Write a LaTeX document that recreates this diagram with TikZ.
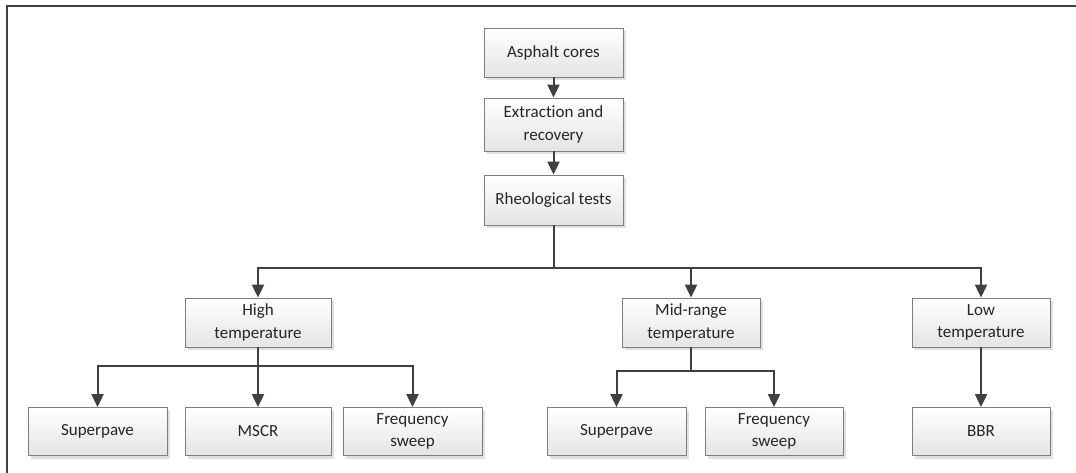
\documentclass[tikz,border=0pt]{standalone}
\usepackage{fontspec}
\setmainfont{Carlito}[Ligatures=NoCommon]
\usepackage{tikz}
\usetikzlibrary{arrows.meta}
\usetikzlibrary{shadows}
\definecolor{linegray}{HTML}{404040}
\definecolor{boxborder}{HTML}{7F7F7F}
\definecolor{boxbottom}{HTML}{E4E4E4}

\begin{document}
\begin{tikzpicture}[x=1pt,y=-1pt,
  box/.style={rectangle,draw=boxborder,line width=0.8pt,top color=white,bottom color=boxbottom,
    minimum height=49pt,inner sep=2pt,align=center,font=\fontsize{17}{22.5}\selectfont,text=black!85,
    drop shadow={shadow xshift=3pt,shadow yshift=-3pt,fill=black!12,opacity=1}},
  conn/.style={draw=linegray,line width=2pt},
  arr/.style={conn,-{Triangle[length=13pt,width=12pt]}}]
\useasboundingbox (0,0) rectangle (1076,473);
\draw[black!75,line width=2pt] (7,473) -- (7,6.5) -- (1076,6.5);

\node[box,minimum width=139pt] (cores) at (553.5,52.5) {Asphalt cores};
\node[box,minimum width=139pt,minimum height=53pt] (extract) at (553.5,124.5) {Extraction and\\recovery};
\node[box,minimum width=139pt,minimum height=50pt] (rheo) at (553.5,200) {Rheological tests};

\node[box,minimum width=146pt] (high) at (258,322.5) {High\\temperature};
\node[box,minimum width=138pt] (mid) at (691,322.5) {Mid-range\\temperature};
\node[box,minimum width=138pt] (low) at (981,322.5) {Low\\temperature};

\node[box,minimum width=139pt,minimum height=48pt] (sp1) at (97.5,431.5) {Superpave};
\node[box,minimum width=146pt,minimum height=48pt] (mscr) at (258,431.5) {MSCR};
\node[box,minimum width=139pt,minimum height=48pt] (fs1) at (412.5,431.5) {Frequency\\sweep};
\node[box,minimum width=139pt,minimum height=48pt] (sp2) at (616.5,431.5) {Superpave};
\node[box,minimum width=138pt,minimum height=48pt] (fs2) at (774,431.5) {Frequency\\sweep};
\node[box,minimum width=138pt,minimum height=48pt] (bbr) at (981,431.5) {BBR};

\coordinate (bus) at (553.5,268);
\coordinate (hb) at (258,366);
\coordinate (mb) at (691,370.5);

\draw[arr] (cores) -- (extract);
\draw[arr] (extract) -- (rheo);
\draw[conn] (rheo) -- (bus);
\draw[arr] (bus) -| (high);
\draw[arr] (bus) -| (mid);
\draw[arr] (bus) -| (low);

\draw[conn] (high) -- (hb);
\draw[arr] (hb) -| (sp1);
\draw[arr] (hb) -- (mscr);
\draw[arr] (hb) -| (fs1);

\draw[conn] (mid) -- (mb);
\draw[arr] (mb) -| (sp2);
\draw[arr] (mb) -| (fs2);

\draw[arr] (low) -- (bbr);
\end{tikzpicture}
\end{document}
